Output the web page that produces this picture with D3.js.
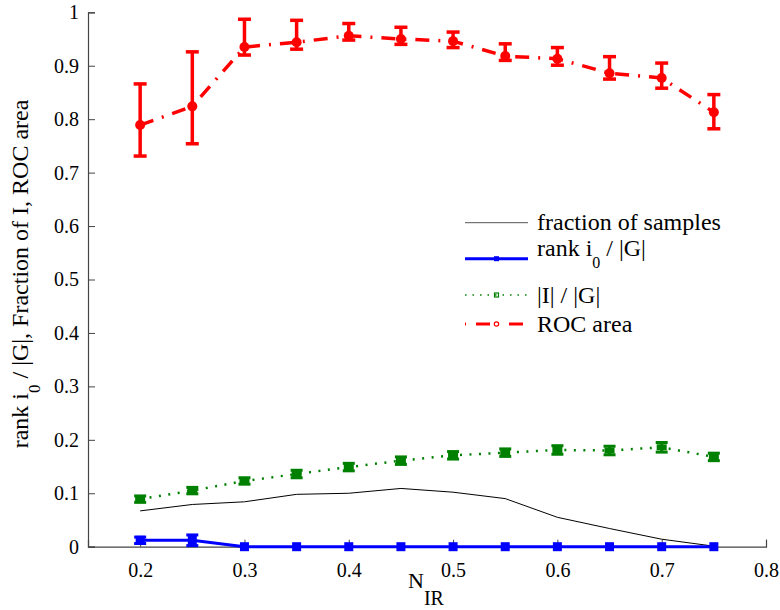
<!DOCTYPE html>
<html><head><meta charset="utf-8">
<script src="https://cdn.jsdelivr.net/npm/d3@7"></script>
<style>body{margin:0;background:#fff}svg text{font-family:"Liberation Serif","Times New Roman",serif}</style>
</head><body><svg id="c" width="780" height="610"></svg>
<script>
const xVals = [0.2,0.25,0.3,0.35,0.4,0.45,0.5,0.55,0.6,0.65,0.7,0.75];
const fraction = [0.067,0.079,0.084,0.098,0.100,0.109,0.102,0.090,0.055,0.034,0.014,0.001];
const rank = [0.012,0.012,0,0,0,0,0,0,0,0,0,0];
const rankErr = [0.006,0.010,0,0,0,0,0,0,0,0,0,0];
const iG = [0.089,0.105,0.123,0.136,0.149,0.161,0.171,0.176,0.181,0.180,0.186,0.168];
const iGErr = [0.006,0.006,0.006,0.007,0.007,0.007,0.007,0.007,0.008,0.008,0.009,0.007];
const roc = [0.789,0.824,0.935,0.944,0.956,0.950,0.946,0.918,0.913,0.886,0.877,0.813];
const rocLo = [0.731,0.754,0.920,0.931,0.948,0.940,0.934,0.910,0.901,0.875,0.858,0.782];
const rocHi = [0.866,0.926,0.987,0.985,0.979,0.972,0.963,0.941,0.934,0.917,0.905,0.846];
const xTicks = [0.2,0.3,0.4,0.5,0.6,0.7,0.8];
const yTicks = [0,0.1,0.2,0.3,0.4,0.5,0.6,0.7,0.8,0.9,1];

const svg = d3.select("#c");
const x = d3.scaleLinear().domain([0.15,0.8]).range([88,766]);
const y = d3.scaleLinear().domain([0,1]).range([546.7,12.3]);
const axisCol = "#444";
const FONT = "Liberation Serif";

// axes
const gx = svg.append("g").attr("transform","translate(0,546.7)")
  .call(d3.axisBottom(x).tickValues(xTicks).tickSize(-7).tickPadding(16).tickFormat(d3.format(".1f")));
const gy = svg.append("g").attr("transform","translate(88,0)")
  .call(d3.axisLeft(y).tickValues(yTicks).tickSize(-7).tickPadding(16).tickFormat(d=>d===0?"0":d===1?"1":d3.format(".1f")(d)));
[gx,gy].forEach(g=>{
  g.attr("font-family",FONT);
  g.select(".domain").attr("stroke",axisCol).attr("stroke-width",1.2);
  g.selectAll(".tick line").attr("stroke",axisCol).attr("stroke-width",1);
  g.selectAll(".tick text").attr("font-size",20).attr("fill","#000").attr("font-family",FONT);
});
gy.selectAll(".tick text").attr("dx",7);

const line = d3.line().x((d,i)=>x(xVals[i])).y(d=>y(d));

// fraction of samples
svg.append("path").datum(fraction).attr("d",line).attr("fill","none").attr("stroke","#000").attr("stroke-width",1);

function errBars(lo, hi, col, w, cap){
  const g = svg.append("g");
  xVals.forEach((xv,i)=>{
    if (hi[i]-lo[i] <= 0) return;
    g.append("line").attr("x1",x(xv)).attr("x2",x(xv)).attr("y1",y(lo[i])).attr("y2",y(hi[i])).attr("stroke",col).attr("stroke-width",w);
    [lo[i],hi[i]].forEach(v=>g.append("line").attr("x1",x(xv)-cap).attr("x2",x(xv)+cap).attr("y1",y(v)).attr("y2",y(v)).attr("stroke",col).attr("stroke-width",w));
  });
}

// |I|/|G| green dotted
svg.append("path").datum(iG).attr("d",line).attr("fill","none").attr("stroke","#008000").attr("stroke-width",2.5).attr("stroke-dasharray","2,7.5");
errBars(iG.map((v,i)=>v-iGErr[i]), iG.map((v,i)=>v+iGErr[i]), "#008000", 3, 6);
svg.append("g").selectAll("rect").data(iG).join("rect")
  .attr("x",(d,i)=>x(xVals[i])-5).attr("y",d=>y(d)-3).attr("width",10).attr("height",6).attr("fill","#008000");

// rank blue
svg.append("path").datum(rank).attr("d",line).attr("fill","none").attr("stroke","#0000ff").attr("stroke-width",3);
errBars(rank.map((v,i)=>v-rankErr[i]), rank.map((v,i)=>v+rankErr[i]), "#0000ff", 3, 6);
svg.append("g").selectAll("rect").data(rank).join("rect")
  .attr("x",(d,i)=>x(xVals[i])-4.5).attr("y",d=>y(d)-4.5).attr("width",9).attr("height",9).attr("fill","#0000ff");

// ROC red dash-dot
svg.append("path").datum(roc).attr("d",line).attr("fill","none").attr("stroke","#ff0000").attr("stroke-width",3.5).attr("stroke-dasharray","14,9,2,9");
errBars(rocLo, rocHi, "#ff0000", 3.5, 6.5);
svg.append("g").selectAll("circle").data(roc).join("circle")
  .attr("cx",(d,i)=>x(xVals[i])).attr("cy",d=>y(d)).attr("r",5).attr("fill","#ff0000");

// legend
const lg = svg.append("g").attr("font-family",FONT);
const lx1 = 465, lx2 = 528, tx = 537, LF = 24;
lg.append("line").attr("x1",lx1).attr("x2",lx2).attr("y1",222.7).attr("y2",222.7).attr("stroke","#555").attr("stroke-width",1);
lg.append("text").attr("x",tx).attr("y",230).attr("font-size",LF).text("fraction of samples");
lg.append("line").attr("x1",lx1).attr("x2",lx2).attr("y1",258.7).attr("y2",258.7).attr("stroke","#0000ff").attr("stroke-width",3);
lg.append("rect").attr("x",(lx1+lx2)/2-2.5).attr("y",256.2).attr("width",5).attr("height",5).attr("fill","#0000ff");
const t2 = lg.append("text").attr("x",tx).attr("y",256).attr("font-size",LF);
t2.append("tspan").text("rank i");
t2.append("tspan").attr("dy",12).attr("font-size",16).text("0");
t2.append("tspan").attr("dy",-12).text(" / |G|");
lg.append("line").attr("x1",lx1).attr("x2",lx2).attr("y1",295).attr("y2",295).attr("stroke","#008000").attr("stroke-width",1.5).attr("stroke-dasharray","1.5,6");
lg.append("rect").attr("x",(lx1+lx2)/2-2).attr("y",293).attr("width",4).attr("height",4).attr("fill","none").attr("stroke","#008000").attr("stroke-width",1.2);
lg.append("text").attr("x",tx).attr("y",303).attr("font-size",LF).text("|I| / |G|");
lg.append("line").attr("x1",lx1).attr("x2",lx2).attr("y1",324).attr("y2",324).attr("stroke","#ff0000").attr("stroke-width",3).attr("stroke-dasharray","1,10,14,8");
lg.append("circle").attr("cx",(lx1+lx2)/2).attr("cy",324).attr("r",2.2).attr("fill","#fff").attr("stroke","#ff0000").attr("stroke-width",1.2);
lg.append("text").attr("x",tx).attr("y",332).attr("font-size",LF).text("ROC area");

// x label
const xl = svg.append("text").attr("x",408).attr("y",588).attr("font-size",22).attr("font-family",FONT);
xl.append("tspan").text("N");
xl.append("tspan").attr("dy",17).attr("font-size",20).text("IR");

// y label
const yl = svg.append("text").attr("transform","translate(28,274) rotate(-90)").attr("text-anchor","middle").attr("font-size",24).attr("font-family",FONT);
yl.append("tspan").text("rank i");
yl.append("tspan").attr("dy",12).attr("font-size",17).text("0");
yl.append("tspan").attr("dy",-12).text(" / |G|, Fraction of I, ROC area");
</script></body></html>
